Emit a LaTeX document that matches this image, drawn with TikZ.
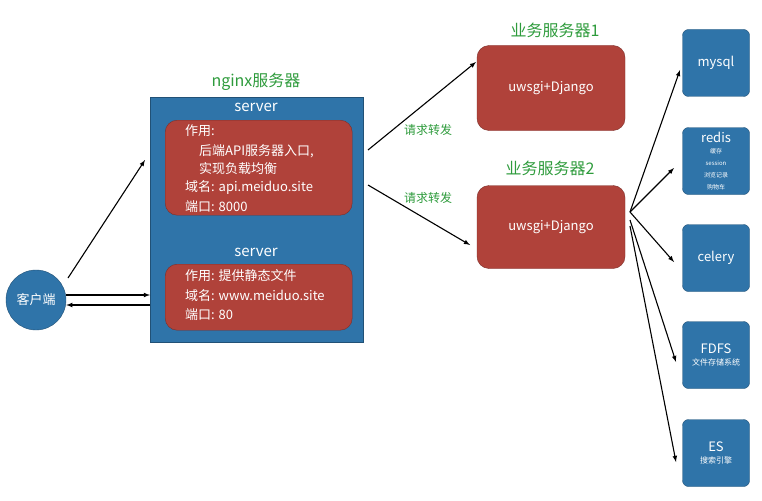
\documentclass[tikz,border=0pt]{standalone}
\usepackage{fontspec}
\setmainfont{Noto Sans CJK SC}
\usetikzlibrary{positioning}
\definecolor{boxblue}{HTML}{2F74A9}
\definecolor{boxred}{HTML}{B0423A}
\definecolor{lblgreen}{HTML}{2E9B3C}
\tikzset{
  blk/.style={fill=boxblue, draw=boxblue!70!black, rounded corners=6pt, text=white, align=center, minimum width=67pt, minimum height=67pt, font=\fontsize{13}{15}\selectfont},
  srv/.style={fill=boxred, draw=boxred!70!black, rounded corners=12pt},
  txt/.style={text=white, anchor=west, inner sep=0pt, font=\fontsize{13}{15}\selectfont},
  arr/.style={->, >=latex, line width=1.1pt, black},
  tag/.style={text=lblgreen, font=\fontsize{16}{18}\selectfont},
  fwd/.style={text=lblgreen, font=\fontsize{12}{14}\selectfont},
}
\newcommand{\sm}{\fontsize{8}{10}\selectfont}
\newcommand{\xs}{\fontsize{6}{7}\selectfont}
\begin{document}
\begin{tikzpicture}[x=1pt, y=-1pt]
      \useasboundingbox (0,0) rectangle (762,500);
      % client
      \node[circle, fill=boxblue, draw=boxblue!70!black, minimum size=60pt, text=white, font=\fontsize{13}{15}\selectfont] (client) at (36,300) {客户端};
      % nginx
      \node[fill=boxblue, draw=boxblue!70!black, minimum width=213pt, minimum height=245pt, anchor=north west] (nginx) at (150,97) {};
      \node[tag] (ntag) at (256,82) {nginx服务器};
      \node[text=white, font=\fontsize{15}{17}\selectfont] (s1) at (256,107) {server};
      \node[srv, minimum width=187pt, minimum height=95pt, anchor=north west] (api) at (165,120) {};
      \node[txt] (a1) at (185,131) {作用:};
      \node[txt] (a2) at (199,151) {后端API服务器入口,};
      \node[txt] (a3) at (199,169) {实现负载均衡};
      \node[txt] (a4) at (185,188) {域名: api.meiduo.site};
      \node[txt] (a5) at (185,207) {端口: 8000};
      \node[text=white, font=\fontsize{15}{17}\selectfont] (s2) at (256,252) {server};
      \node[srv, minimum width=187pt, minimum height=66pt, anchor=north west] (web) at (165,264) {};
      \node[txt] (w1) at (185,276) {作用: 提供静态文件};
      \node[txt] (w2) at (185,296) {域名: www.meiduo.site};
      \node[txt] (w3) at (185,315) {端口: 80};
      % business servers
      \node[srv, minimum width=148pt, minimum height=85pt, text=white, font=\fontsize{13}{15}\selectfont] (biz1) at (551,88) {uwsgi+Django};
      \node[tag] (t1) at (555,30) {业务服务器1};
      \node[srv, minimum width=148pt, minimum height=83pt, text=white, font=\fontsize{13}{15}\selectfont] (biz2) at (551,227) {uwsgi+Django};
      \node[tag] (t2) at (550,168) {业务服务器2};
      % storage
      \node[blk] (mysql) at (716,63) {mysql};
      \node[blk] (redis) at (716,161) {redis\\[-4pt]{\xs 缓存}\\[-3pt]{\xs session}\\[-3pt]{\xs 浏览记录}\\[-3pt]{\xs 购物车}};
      \node[blk] (celery) at (716,258) {celery};
      \node[blk] (fdfs) at (716,355) {FDFS\\[-3pt]{\sm 文件存储系统}};
      \node[blk] (es) at (716,453) {ES\\[-3pt]{\sm 搜索引擎}};
      % connectors
      \coordinate (c1) at (68,278);
      \coordinate (c2) at (145,160);
      \draw[arr] (c1) -- (c2);
      \draw[arr] ([yshift=5pt]client.east) -- ([yshift=5pt]nginx.west |- client);
      \draw[arr] ([yshift=-5pt]nginx.west |- client) -- ([yshift=-5pt]client.east);
      \draw[arr] (368,150) -- (476,62);
      \draw[arr] (368,185) -- (470,245);
      \node[fwd] (f1) at (428,130) {请求转发};
      \node[fwd] (f2) at (428,198) {请求转发};
      \coordinate (hub) at (630,212);
      \draw[arr] (hub) -- (680,70);
      \draw[arr] (hub) -- (674,168);
      \draw[arr] (hub) -- (674,262);
      \draw[arr] ([yshift=-8pt]hub) -- (676,362);
      \draw[arr] ([yshift=-14pt]hub) -- (676,462);
\end{tikzpicture}
\end{document}
